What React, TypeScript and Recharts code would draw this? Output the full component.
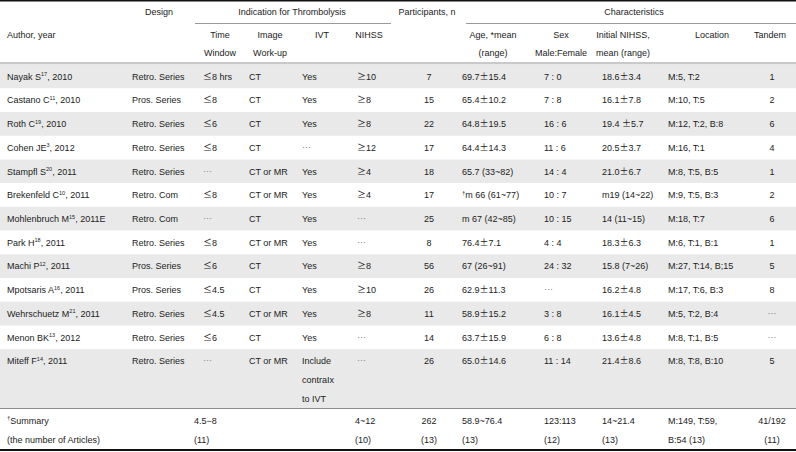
import React from "react";
import {
  ComposedChart,
  XAxis,
  YAxis,
  Scatter,
  ReferenceArea,
  ReferenceLine,
  Customized,
} from "recharts";

// study rows
const authors = [
  "Nayak S", "Castano C", "Roth C", "Cohen JE", "Stampfl S", "Brekenfeld C", "Mohlenbruch M",
  "Park H", "Machi P", "Mpotsaris A", "Wehrschuetz M", "Menon BK", "Miteff F",
];
const refs = ["17", "11", "19", "3", "20", "10", "15", "18", "12", "16", "21", "13", "14"];
const years = ["2010", "2010", "2010", "2012", "2011", "2011", "2011E", "2011", "2011", "2011", "2011", "2012", "2011"];
const designs = [
  "Retro. Series", "Pros. Series", "Retro. Series", "Retro. Series", "Retro. Series", "Retro. Com", "Retro. Com",
  "Retro. Series", "Pros. Series", "Pros. Series", "Retro. Series", "Retro. Series", "Retro. Series",
];
const timeWindows = ["≤8 hrs", "≤8", "≤6", "≤8", "⋯", "≤8", "⋯", "≤8", "≤6", "≤4.5", "≤4.5", "≤6", "⋯"];
const imageWorkup = ["CT", "CT", "CT", "CT", "CT or MR", "CT or MR", "CT", "CT or MR", "CT", "CT", "CT or MR", "CT", "CT or MR"];
const ivt = ["Yes", "Yes", "Yes", "⋯", "Yes", "Yes", "Yes", "Yes", "Yes", "Yes", "Yes", "Yes", "Include\ncontraIx\nto IVT"];
const nihssCut = ["≥10", "≥8", "≥8", "≥12", "≥4", "≥4", "⋯", "⋯", "≥8", "≥10", "≥8", "⋯", "⋯"];
const participants = [7, 15, 22, 17, 18, 17, 25, 8, 56, 26, 11, 14, 26];
const ages = [
  "69.7±15.4", "65.4±10.2", "64.8±19.5", "64.4±14.3", "65.7 (33~82)", "†m 66 (61~77)", "m 67 (42~85)",
  "76.4±7.1", "67 (26~91)", "62.9±11.3", "58.9±15.2", "63.7±15.9", "65.0±14.6",
];
const sexRatio = ["7 : 0", "7 : 8", "16 : 6", "11 : 6", "14 : 4", "10 : 7", "10 : 15", "4 : 4", "24 : 32", "⋯", "3 : 8", "6 : 8", "11 : 14"];
const initialNihss = [
  "18.6±3.4", "16.1±7.8", "19.4 ±5.7", "20.5±3.7", "21.0±6.7", "m19 (14~22)", "14 (11~15)",
  "18.3±6.3", "15.8 (7~26)", "16.2±4.8", "16.1±4.5", "13.6±4.8", "21.4±8.6",
];
const locations = [
  "M:5, T:2", "M:10, T:5", "M:12, T:2, B:8", "M:16, T:1", "M:8, T:5, B:5", "M:9, T:5, B:3", "M:18, T:7",
  "M:6, T:1, B:1", "M:27, T:14, B;15", "M:17, T:6, B:3", "M:5, T:2, B:4", "M:8, T:1, B:5", "M:8, T:8, B:10",
];
const tandem = ["1", "2", "6", "4", "1", "2", "6", "1", "5", "8", "⋯", "⋯", "5"];

// summary row, one entry per column
const summaryCells = [
  "†Summary\n(the number of Articles)", "", "4.5−8\n(11)", "", "", "4~12\n(10)", "262\n(13)",
  "58.9~76.4\n(13)", "123:113\n(12)", "14~21.4\n(13)", "M:149, T:59,\nB:54 (13)", "41/192\n(11)",
];

// header labels
const groupHeaders = ["Design", "Indication for Thrombolysis", "Participants, n", "Characteristics"];
const subHeaders = [
  "Author, year", "Time\nWindow", "Image\nWork-up", "IVT", "NIHSS",
  "Age, *mean\n(range)", "Sex\nMale:Female", "Initial NIHSS,\nmean (range)", "Location", "Tandem",
];

const FONT = "'Liberation Sans', Arial, sans-serif";
const CJK = "'Noto Sans CJK KR', sans-serif";
const INK = "#222";
const STRIPE = "#e9e9e9";
const LINE_GAP = 19;

const COLS = [
  { x: 7, anchor: "start" },
  { x: 132, anchor: "start" },
  { x: 203, anchor: "start", sumX: 194 },
  { x: 249, anchor: "start" },
  { x: 302, anchor: "start" },
  { x: 357, anchor: "start", sumX: 355 },
  { x: 429, anchor: "middle" },
  { x: 462, anchor: "start" },
  { x: 544, anchor: "start" },
  { x: 602, anchor: "start" },
  { x: 668, anchor: "start" },
  { x: 772, anchor: "middle" },
];

const GROUP_POS = [
  { x: 159 },
  { x: 292, x1: 195, x2: 391 },
  { x: 427 },
  { x: 634, x1: 466, x2: 796 },
];
const SUB_POS = [
  { x: 7, anchor: "start" },
  { x: 220 }, { x: 270 }, { x: 322 }, { x: 369 },
  { x: 493 }, { x: 561 }, { x: 623 }, { x: 712 }, { x: 770 },
];

type Row = { cells: string[]; ref?: string; year?: string; summary?: boolean; top: number; bottom: number };

const rawRows = authors.map((a, i) => ({
  cells: [a, designs[i], timeWindows[i], imageWorkup[i], ivt[i], nihssCut[i], String(participants[i]),
    ages[i], sexRatio[i], initialNihss[i], locations[i], tandem[i]],
  ref: refs[i] as string | undefined,
  year: years[i] as string | undefined,
  summary: false,
}));
rawRows.push({ cells: summaryCells, ref: undefined, year: undefined, summary: true });

// row height in "row units": extra lines add 0.75 of a row
let acc = 0;
const rows: Row[] = rawRows.map((r) => {
  const lines = Math.max(...r.cells.map((c) => c.split("\n").length));
  const top = acc;
  acc += 1 + (lines - 1) * 0.75;
  return { ...r, top, bottom: acc };
});
const totalUnits = acc;
const summaryTop = rows[rows.length - 1].top;

const Rich = ({ text }: { text: string }) => {
  const parts = text.split(/([±≤≥⋯†])/).filter((p) => p !== "");
  let raised = false;
  return (
    <>
      {parts.map((p, i) => {
        if (p === "†") {
          raised = true;
          return (
            <tspan key={i} fontSize={6} dy={-3.5}>
              †
            </tspan>
          );
        }
        const dy = raised ? 3.5 : undefined;
        raised = false;
        if (p === "⋯")
          return (
            <tspan key={i} dy={dy} fontFamily={CJK} fill="#888">
              {p}
            </tspan>
          );
        if ("±≤≥".includes(p))
          return (
            <tspan key={i} dy={dy} fontFamily={CJK}>
              {p}
            </tspan>
          );
        return (
          <tspan key={i} dy={dy}>
            {p}
          </tspan>
        );
      })}
    </>
  );
};

// each scatter point draws one table row at its top edge
const RowShape = (props: any) => {
  const { cy, payload } = props;
  const row = payload as Row;
  if (!row || cy == null) return null;
  const y = cy;
  return (
    <g fontFamily={FONT} fontSize={9} fill={INK}>
      {row.cells.map((cell, c) => {
        const col = COLS[c];
        const x = row.summary && col.sumX ? col.sumX : col.x;
        if (c === 0 && row.ref) {
          return (
            <text key={c} x={x} y={y + 12 + 3.2} textAnchor={col.anchor as any}>
              <tspan>{cell}</tspan>
              <tspan fontSize={5.5} dy={-3.5}>
                {row.ref}
              </tspan>
              <tspan dy={3.5}>, {row.year}</tspan>
            </text>
          );
        }
        return cell.split("\n").map((line, k) => (
          <text key={`${c}-${k}`} x={x} y={y + 12 + k * LINE_GAP + 3.2} textAnchor={col.anchor as any}>
            <Rich text={line} />
          </text>
        ));
      })}
    </g>
  );
};

const HeaderLayer = () => (
  <g fontFamily={FONT} fontSize={9} fill={INK}>
    <rect x={0} y={0} width={796} height={1.5} fill="#111" />
    {groupHeaders.map((h, i) => (
      <text key={h} x={GROUP_POS[i].x} y={15.2} textAnchor="middle">
        {h}
      </text>
    ))}
    {GROUP_POS.filter((g) => g.x1 !== undefined).map((g, i) => (
      <line key={i} x1={g.x1} x2={g.x2} y1={23.5} y2={23.5} stroke="#9a9a9a" strokeWidth={1} />
    ))}
    {subHeaders.map((h, i) =>
      h.split("\n").map((line, k) => (
        <text
          key={`${i}-${k}`}
          x={SUB_POS[i].x}
          y={38.2 + k * 18}
          textAnchor={(SUB_POS[i].anchor as any) || "middle"}
        >
          {line}
        </text>
      ))
    )}
    <rect x={0} y={62} width={796} height={2.5} fill="#c9c9c9" />
  </g>
);

export default function App() {
  return (
    <div style={{ position: "absolute", left: 0, top: 0, background: "#fff" }}>
      <ComposedChart
        width={796}
        height={452}
        data={rows}
        margin={{ top: 64.5, right: 0, bottom: 2, left: 0 }}
      >
        <XAxis type="number" dataKey={() => 0} domain={[0, 1]} hide />
        <YAxis type="number" dataKey="top" domain={[0, totalUnits]} reversed hide allowDataOverflow />
        {rows
          .filter((_, i) => i % 2 === 0 && !rows[i].summary)
          .map((r) => (
            <ReferenceArea
              key={r.top}
              y1={r.top}
              y2={r.bottom}
              fill={STRIPE}
              fillOpacity={1}
              stroke="none"
              ifOverflow="visible"
            />
          ))}
        <ReferenceLine y={summaryTop} stroke="#8c8c8c" strokeWidth={1} ifOverflow="visible" />
        <ReferenceLine y={totalUnits} stroke="#111" strokeWidth={2} ifOverflow="visible" />
        <Scatter data={rows} dataKey="top" shape={<RowShape />} isAnimationActive={false} />
        <Customized component={<HeaderLayer />} />
      </ComposedChart>
    </div>
  );
}
